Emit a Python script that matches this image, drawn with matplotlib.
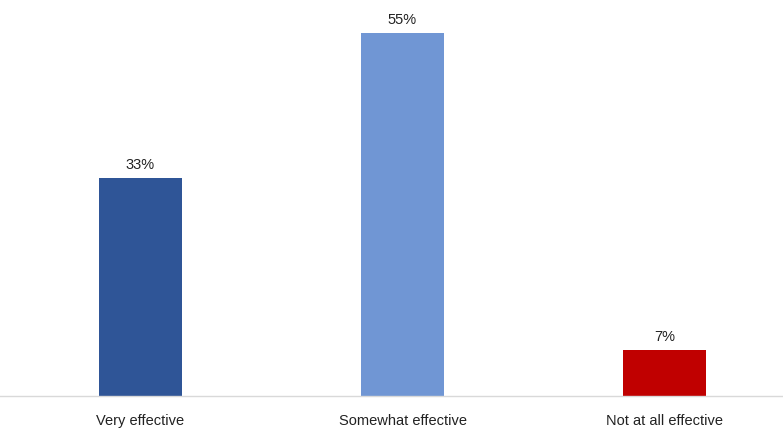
import matplotlib
matplotlib.use('Agg')
import matplotlib.pyplot as plt

categories = ['Very effective', 'Somewhat effective', 'Not at all effective']
values = [33, 55, 7]
colors = ['#2F5597', '#7096D4', '#C00000']

plt.rcParams['font.family'] = ['Liberation Sans Narrow', 'Liberation Sans', 'DejaVu Sans']

fig = plt.figure(figsize=(7.83, 4.29), dpi=100)
ax = fig.add_axes([0.0, 33 / 429, 1.0, 396 / 429])

x = list(range(len(categories)))
bars = ax.bar(x, values, width=0.317, color=colors)
for b, v in zip(bars, values):
    ax.text(b.get_x() + b.get_width() / 2, v + 0.9, f'{v}%',
            ha='center', va='bottom', fontsize=10.5, color='#222222')

ax.set_xlim(-0.536, 2.452)
ax.set_ylim(0, 60)
ax.set_xticks(x)
ax.set_xticklabels(categories, fontsize=10.5, color='#222222')
ax.tick_params(axis='x', length=0, pad=13)
ax.set_yticks([])
for s in ['top', 'right', 'left']:
    ax.spines[s].set_visible(False)
ax.spines['bottom'].set_color('#D9D9D9')
ax.spines['bottom'].set_linewidth(1)

fig.savefig('out.png', dpi=100)
